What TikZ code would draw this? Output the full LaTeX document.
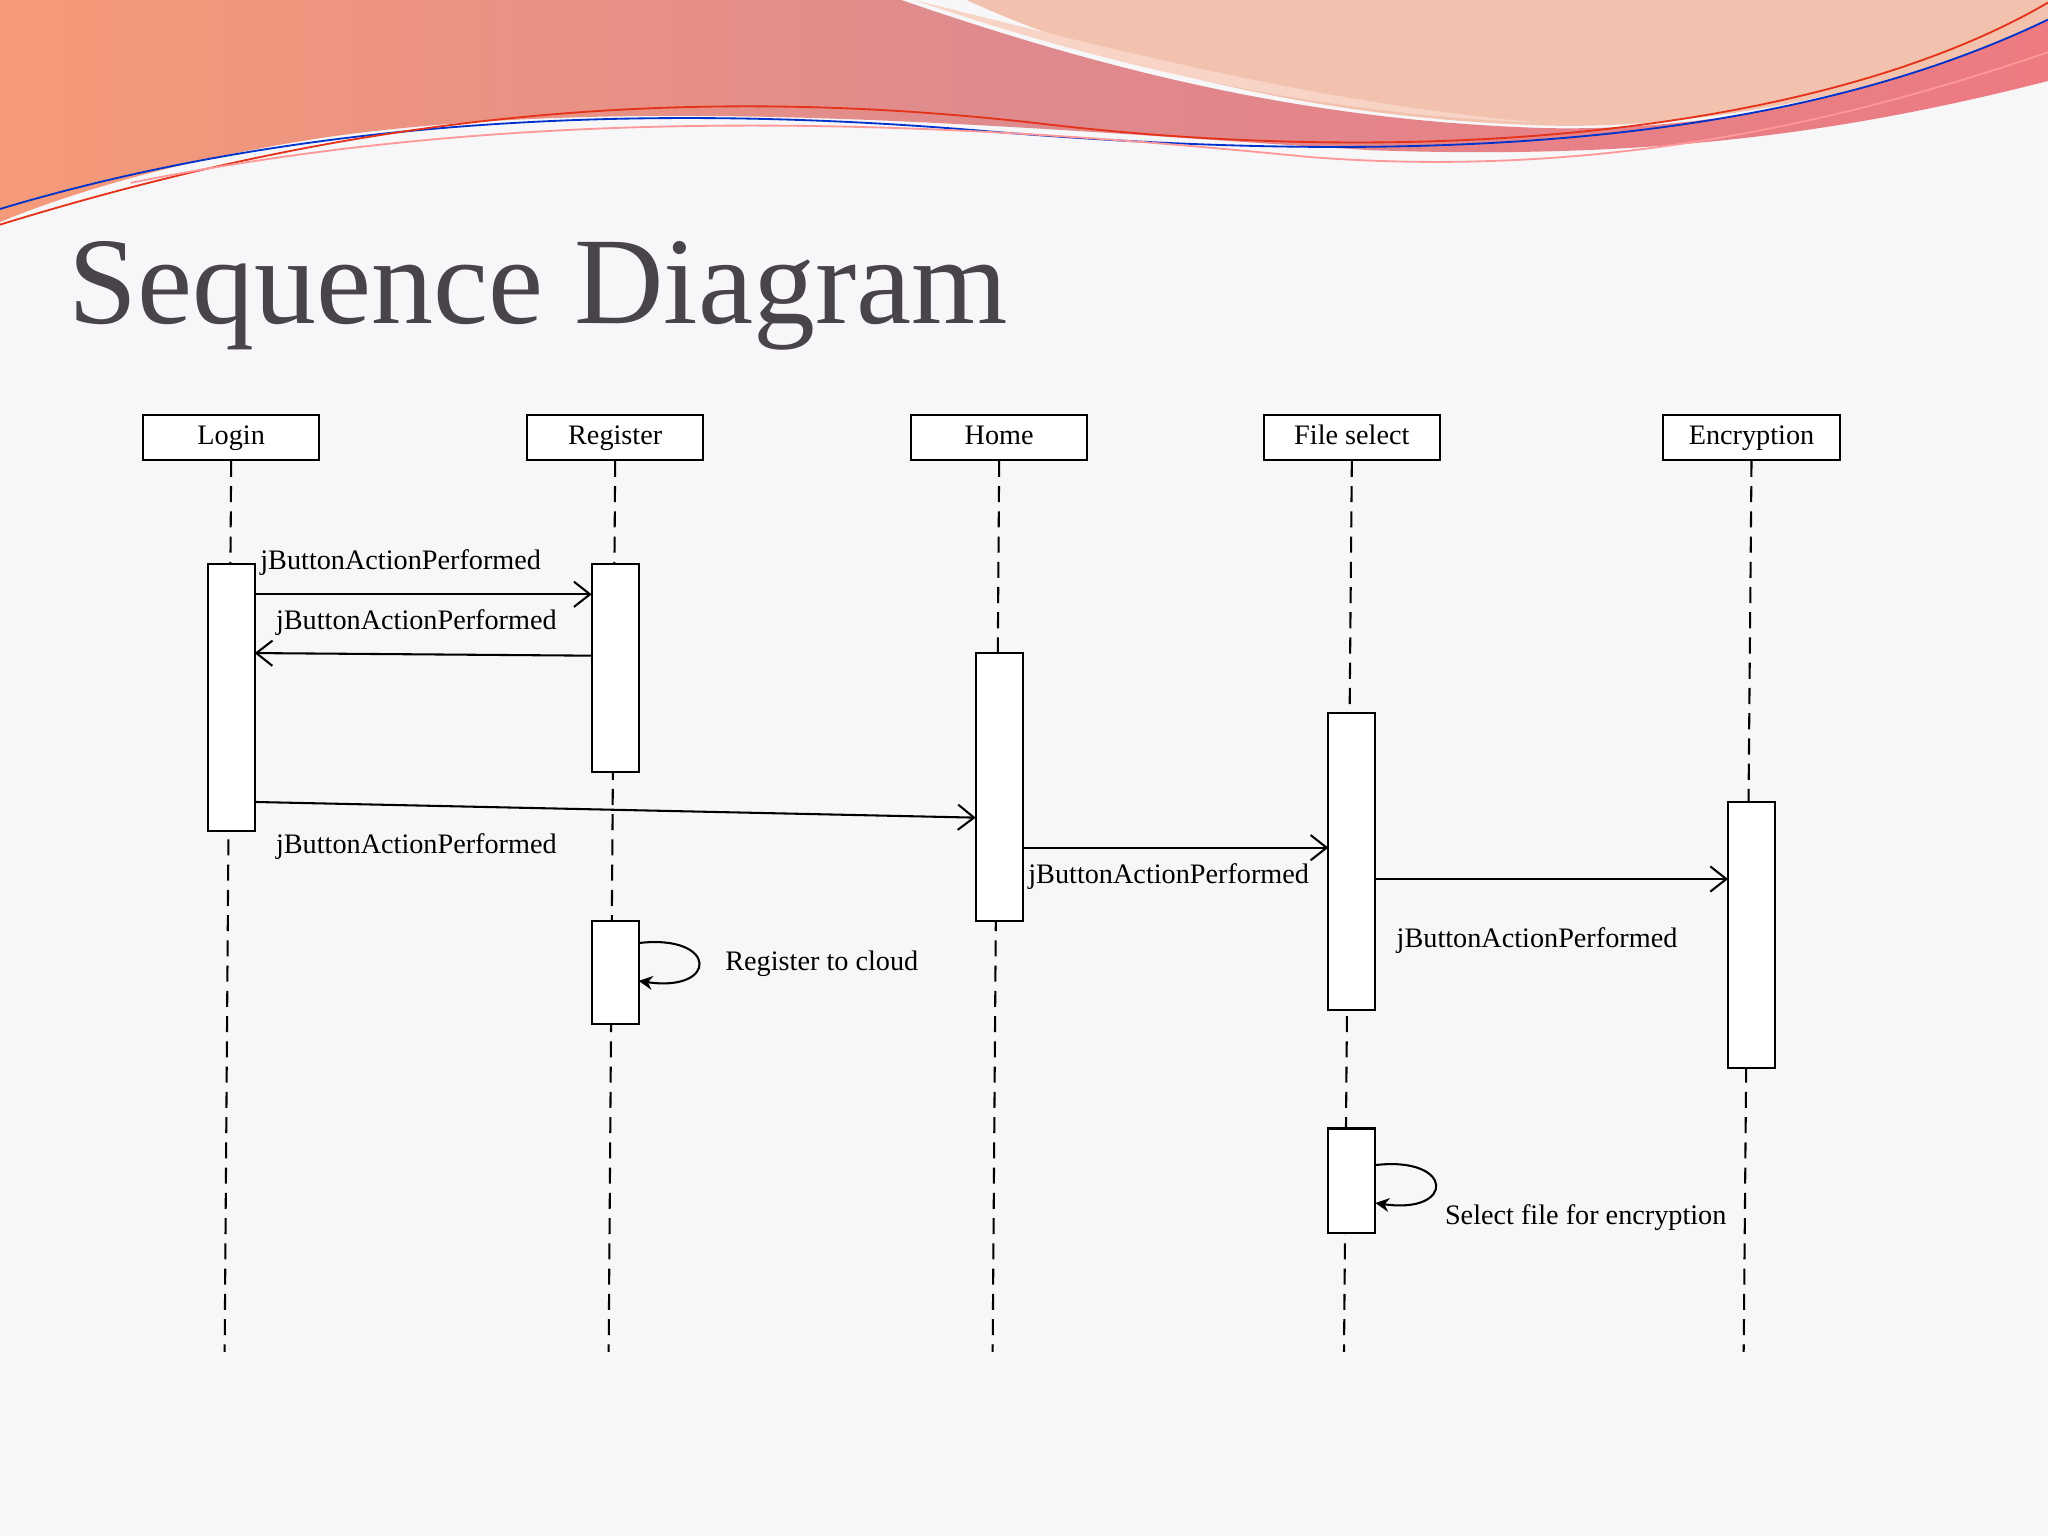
\documentclass[tikz,border=0pt]{standalone}
\usepackage{fontspec}
\setmainfont{Liberation Serif}
\usetikzlibrary{arrows.meta}
\definecolor{bg}{HTML}{F7F6F8}
\definecolor{titlec}{HTML}{48444A}
\definecolor{bandL}{HTML}{F59A78}
\definecolor{bandM}{HTML}{DE8A8E}
\definecolor{bandR}{HTML}{EE7A82}
\definecolor{peach}{HTML}{F3C2AE}
\begin{document}
\begin{tikzpicture}[x=0.02cm,y=-0.02cm,
  lbl/.style={font=\fontsize{12.3}{14}\selectfont},
  head/.style={draw,fill=white,line width=0.9pt,minimum width=2.7cm,minimum height=0.68cm,inner sep=0pt,text height=8.5pt,text depth=2.5pt,font=\fontsize{12.3}{14}\selectfont},
  act/.style={draw,fill=white,line width=0.9pt},
  life/.style={line width=0.9pt,dash pattern=on 7pt off 4pt},
  msg/.style={line width=0.9pt,-{Straight Barb[length=7pt,width=11pt]}},
  self/.style={line width=0.9pt,-{Stealth[length=6pt,width=6pt]}}]
\useasboundingbox[fill=bg] (0,0) rectangle (1568,1176);
% decorative band
\fill[peach] (740,0) -- (1568,0) -- (1568,20) .. controls (1450,70) and (1300,100) .. (1180,96) .. controls (1000,90) and (850,50) .. (740,0) -- cycle;
\shade[left color=bandL,right color=bandR,middle color=bandM] (0,0) -- (690,0) .. controls (850,55) and (1000,92) .. (1180,98) .. controls (1350,102) and (1480,55) .. (1568,15) -- (1568,62) .. controls (1400,105) and (1250,122) .. (1050,115) .. controls (800,100) and (500,70) .. (250,105) .. controls (150,120) and (60,145) .. (0,170) -- cycle;
\fill[peach!70!white] (700,0) .. controls (880,45) and (1020,80) .. (1180,94) .. controls (1020,88) and (860,55) .. (700,0) -- cycle;
\draw[blue!60!teal,line width=0.8pt] (0,160) .. controls (200,100) and (450,75) .. (750,100) .. controls (1050,125) and (1350,120) .. (1568,15);
\draw[red!60!brown,line width=0.8pt] (0,172) .. controls (250,95) and (500,60) .. (800,95) .. controls (1100,130) and (1400,100) .. (1568,2);
\draw[red!40,line width=0.8pt] (100,140) .. controls (400,80) and (700,90) .. (1000,120) .. controls (1250,140) and (1450,80) .. (1568,40);
% title
\node[anchor=base west,inner sep=0pt,text=titlec,font=\fontsize{54}{60}\selectfont] (title) at (52,248) {Sequence Diagram};
% heads
\node[head] (h1) at (177,335) {Login};
\node[head] (h2) at (471,335) {Register};
\node[head] (h3) at (765,335) {Home};
\node[head] (h4) at (1035,335) {File select};
\node[head] (h5) at (1341,335) {Encryption};
\coordinate (e1) at (172,1035);
\coordinate (e2) at (466,1035);
\coordinate (e3) at (760,1035);
\coordinate (e4) at (1029,1035);
\coordinate (e5) at (1335,1035);
\foreach \i in {1,...,5} \draw[life] (h\i.south) -- (e\i);
% activations
\draw[act] (159,432) rectangle (195,636);
\draw[act] (453,432) rectangle (489,591);
\draw[act] (453,705) rectangle (489,784);
\draw[act] (747,500) rectangle (783,705);
\draw[act] (1017,546) rectangle (1053,773);
\draw[act] (1017,864) rectangle (1053,944);
\draw[act] (1323,614) rectangle (1359,818);
% message anchors
\coordinate (m1a) at (195,455); \coordinate (m1b) at (453,455);
\coordinate (m2a) at (453,502); \coordinate (m2b) at (195,500);
\coordinate (m3a) at (195,614); \coordinate (m3b) at (747,626);
\coordinate (m4a) at (783,649); \coordinate (m4b) at (1017,649);
\coordinate (m5a) at (1053,673); \coordinate (m5b) at (1323,673);
\coordinate (s1a) at (489,722); \coordinate (s1b) at (489,751);
\coordinate (s2a) at (1053,892); \coordinate (s2b) at (1053,921);
\draw[msg] (m1a) -- (m1b);
\draw[msg] (m2a) -- (m2b);
\draw[msg] (m3a) -- (m3b);
\draw[msg] (m4a) -- (m4b);
\draw[msg] (m5a) -- (m5b);
\draw[self] (s1a) .. controls (550,715) and (550,760) .. (s1b);
\draw[self] (s2a) .. controls (1114,885) and (1114,930) .. (s2b);
% labels
\node[lbl,anchor=west,inner sep=0pt] (l1) at (199,431) {jButtonActionPerformed};
\node[lbl,anchor=west,inner sep=0pt] (l2) at (211,477) {jButtonActionPerformed};
\node[lbl,anchor=west,inner sep=0pt] (l3) at (211,648) {jButtonActionPerformed};
\node[lbl,anchor=west,inner sep=0pt] (l4) at (787,671) {jButtonActionPerformed};
\node[lbl,anchor=west,inner sep=0pt] (l5) at (1069,720) {jButtonActionPerformed};
\node[lbl,anchor=west,inner sep=0pt] (l6) at (555,738) {Register to cloud};
\node[lbl,anchor=west,inner sep=0pt] (l7) at (1106,932) {Select file for encryption};
\end{tikzpicture}
\end{document}
